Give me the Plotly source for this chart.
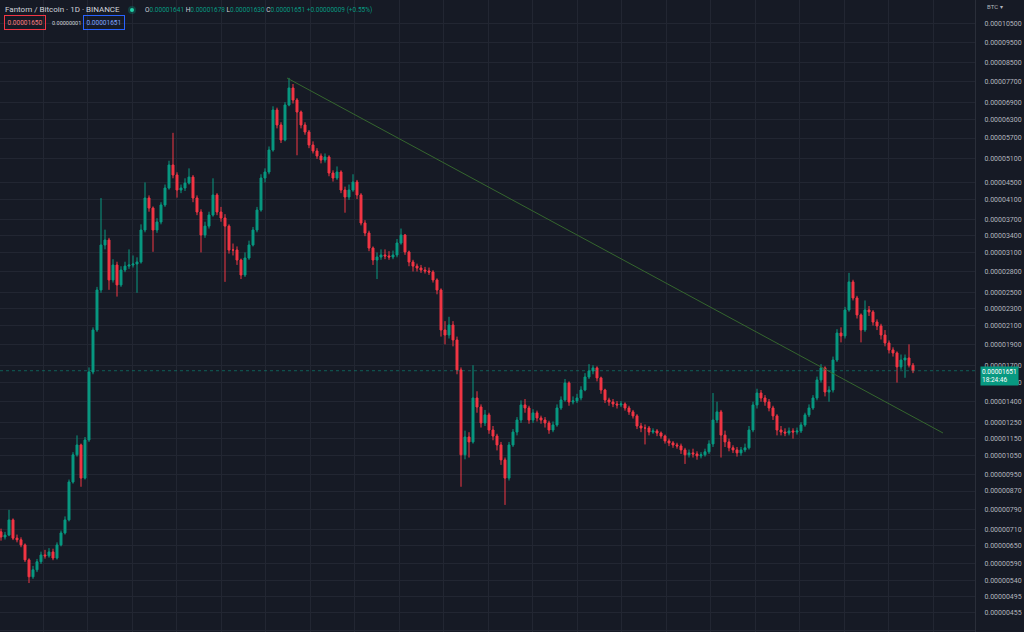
import math
import plotly.graph_objects as go

# ---- Data (prices in satoshi = 1e-8 BTC), 4-day candles ----
closes = [681, 688, 746, 677, 671, 653, 603, 551, 572, 597, 619, 616, 629, 609, 653, 696, 746, 913, 1055, 1112,
          932, 1142, 1640, 2051, 2538, 3225, 3312, 2677, 2899, 2607, 2823, 2882, 2899, 2914, 2946, 3493, 4142, 3926, 3493, 3645,
          3991, 4368, 4938, 4682, 4322, 4368, 4485, 4630, 4142, 3844, 3401, 3566, 3783, 4209, 3844, 3723, 3566, 3140, 3140, 2977,
          2749, 3009, 3225, 3493, 3885, 4607, 4757, 5348, 6617, 6110, 5641, 6796, 7440, 6979, 6547, 6110, 5886, 5493, 5320, 5180,
          5071, 5152, 4731, 4607, 4757, 4322, 4164, 4322, 4510, 4209, 3625, 3437, 3173, 2977, 3025, 3058, 3042, 3025, 3058, 3259,
          3401, 3107, 2945, 2882, 2853, 2823, 2808, 2793, 2677, 2538, 2051, 1997, 2106, 1945, 1658, 1055, 1160, 1130, 1428, 1361,
          1250, 1305, 1204, 1166, 1112, 1027, 932, 1112, 1191, 1270, 1376, 1354, 1270, 1319, 1284, 1270, 1250, 1204, 1237, 1354,
          1413, 1547, 1398, 1406, 1428, 1490, 1597, 1649, 1676, 1589, 1490, 1413, 1398, 1383, 1376, 1383, 1354, 1326, 1298, 1230,
          1217, 1217, 1191, 1198, 1185, 1166, 1136, 1124, 1112, 1106, 1083, 1055, 1066, 1060, 1049, 1055, 1072, 1118, 1270, 1326,
          1172, 1130, 1095, 1083, 1066, 1083, 1095, 1204, 1376, 1466, 1428, 1398, 1354, 1298, 1204, 1191, 1185, 1198, 1191, 1198,
          1237, 1305, 1354, 1428, 1572, 1676, 1474, 1490, 1748, 2018, 1987, 2282, 2649, 2432, 2222, 2051, 2282, 2258, 2140, 2095,
          1997, 1914, 1844, 1815, 1685, 1748, 1767, 1700, 1651]
highs = [712, 700, 787, 752, 690, 680, 658, 608, 584, 606, 630, 636, 642, 640, 662, 705, 760, 925, 1070, 1170,
         1120, 1160, 1680, 2080, 2580, 4140, 3500, 3350, 2990, 2950, 2880, 2950, 3150, 3050, 3020, 3600, 4500, 4200, 3960, 3720,
         4050, 4450, 5050, 5860, 4750, 4450, 4600, 4850, 4680, 4200, 3900, 3650, 3850, 4600, 4250, 3950, 3800, 3600, 3250, 3200,
         3000, 3100, 3300, 3550, 3950, 4700, 4850, 5450, 6750, 6700, 6200, 6900, 7850, 7600, 7050, 6600, 6200, 5950, 5600, 5400,
         5250, 5250, 5200, 4800, 4900, 4800, 4400, 4450, 4700, 4560, 4250, 3680, 3480, 3200, 3100, 3150, 3150, 3120, 3130, 3330,
         3520, 3420, 3130, 2980, 2920, 2900, 2870, 2860, 2820, 2700, 2560, 2150, 2200, 2150, 1980, 1680, 1200, 1190, 1700, 1480,
         1380, 1340, 1320, 1230, 1180, 1130, 1040, 1130, 1210, 1290, 1410, 1420, 1370, 1345, 1335, 1300, 1290, 1265, 1260, 1380,
         1440, 1580, 1560, 1440, 1460, 1520, 1630, 1710, 1700, 1690, 1600, 1500, 1430, 1420, 1405, 1405, 1395, 1370, 1340, 1310,
         1250, 1240, 1230, 1215, 1210, 1195, 1175, 1150, 1135, 1125, 1120, 1095, 1085, 1090, 1075, 1070, 1090, 1140, 1466, 1400,
         1340, 1200, 1150, 1110, 1100, 1100, 1120, 1230, 1400, 1500, 1490, 1450, 1420, 1370, 1310, 1230, 1215, 1220, 1215, 1220,
         1255, 1320, 1380, 1450, 1600, 1710, 1690, 1520, 1780, 2060, 2080, 2320, 2780, 2680, 2460, 2240, 2400, 2330, 2280, 2170,
         2120, 2050, 1940, 1870, 1830, 1800, 1800, 1900, 1720]
lows = [668, 672, 684, 670, 662, 645, 596, 533, 545, 565, 590, 607, 610, 602, 604, 648, 690, 740, 905, 1045,
        890, 925, 1130, 1620, 2030, 2500, 3150, 2540, 2640, 2450, 2580, 2790, 2840, 2860, 2500, 2920, 3450, 3850, 3110, 3440,
        3600, 3950, 4330, 4600, 4150, 4250, 4300, 4450, 4050, 3780, 3100, 3350, 3520, 3750, 3780, 3650, 2650, 3080, 3050, 2900,
        2690, 2720, 2980, 3200, 3450, 3850, 4500, 4700, 5300, 6000, 5550, 5600, 6750, 6850, 5200, 6000, 5800, 5400, 5250, 5100,
        4980, 5000, 4650, 4520, 4560, 4250, 3830, 4100, 4280, 4120, 3580, 3380, 3120, 2900, 2690, 2980, 2990, 2980, 2990, 3020,
        3230, 3060, 2880, 2800, 2800, 2780, 2770, 2750, 2640, 2480, 1980, 1900, 1960, 1880, 1620, 890, 1030, 1040, 1120, 1320,
        1220, 1230, 1180, 1140, 1080, 1000, 808, 920, 1100, 1170, 1250, 1320, 1245, 1250, 1260, 1245, 1220, 1180, 1190, 1225,
        1340, 1400, 1370, 1380, 1390, 1410, 1480, 1580, 1620, 1560, 1460, 1390, 1370, 1360, 1350, 1360, 1335, 1305, 1280, 1210,
        1190, 1115, 1170, 1180, 1165, 1150, 1120, 1105, 1095, 1090, 1060, 1005, 1040, 1040, 1028, 1035, 1045, 1060, 1100, 1250,
        1040, 1100, 1075, 1065, 1045, 1050, 1070, 1085, 1190, 1350, 1400, 1370, 1330, 1270, 1170, 1170, 1165, 1170, 1150, 1175,
        1185, 1225, 1290, 1340, 1410, 1550, 1440, 1400, 1470, 1730, 1920, 1960, 2260, 2400, 2180, 1920, 2030, 2210, 2100, 2050,
        1950, 1880, 1810, 1780, 1550, 1660, 1590, 1680, 1630]
first_open = 700
opens = [first_open] + closes[:-1]
days = [4 * i for i in range(len(closes))]

price_ticks = [10500, 9500, 8500, 7700, 6900, 6300, 5700, 5100, 4500, 4100, 3700, 3400, 3100, 2800, 2500,
               2300, 2100, 1900, 1700, 1550, 1400, 1250, 1150, 1050, 950, 870, 790, 710, 650, 590, 540, 495, 455, 415]
tick_labels = [f"{v / 1e8:.8f}" for v in price_ticks]

trend_days = [286, 942]
trend_prices = [7847, 1185]

last_ohlc = {"O": 1641, "H": 1678, "L": 1630, "C": 1651}
last_change = 9
last_change_pct = 0.55
bid_price, spread, ask_price = 1650, 1, 1651
countdown = "18:24:46"

# ---- Style ----
BG = "#161a25"
GRID = "#222632"
UP = "#089981"
DOWN = "#f23645"
TEXT = "#d1d4dc"
AXIS_TXT = "#b2b5be"
FONT = "Roboto, 'Noto Sans', sans-serif"

W, H = 1024, 632
PLOT_W = 975


def px(x):
    return x / PLOT_W


def py(y):
    return 1 - y / H


fig = go.Figure()
fig.add_trace(go.Candlestick(
    x=days, open=opens, high=highs, low=lows, close=closes,
    increasing=dict(line=dict(color=UP, width=1), fillcolor=UP),
    decreasing=dict(line=dict(color=DOWN, width=1), fillcolor=DOWN),
    whiskerwidth=0, hoverinfo="skip", showlegend=False,
))
fig.add_trace(go.Scatter(
    x=trend_days, y=trend_prices, mode="lines",
    line=dict(color="#35662e", width=1), hoverinfo="skip", showlegend=False,
))

# current price dotted line
fig.add_shape(type="line", xref="paper", x0=0, x1=1, yref="y", y0=closes[-1], y1=closes[-1],
              line=dict(color=UP, width=1, dash="dot"), opacity=0.55)

y_lo, y_hi = 410.7, 11887
grid_x = [42 + 44.5 * k for k in range(22)]

fig.update_layout(
    width=W, height=H,
    margin=dict(l=0, r=W - PLOT_W, t=0, b=0),
    paper_bgcolor=BG, plot_bgcolor=BG,
    font=dict(family=FONT, color=AXIS_TXT, size=7),
    showlegend=False,
    xaxis=dict(range=[-1, 974], rangeslider=dict(visible=False), showticklabels=False,
               tickmode="array", tickvals=grid_x, showgrid=True, gridcolor=GRID, gridwidth=1,
               zeroline=False, showline=False, ticks=""),
    yaxis=dict(type="log", side="right", range=[math.log10(y_lo), math.log10(y_hi)],
               tickmode="array", tickvals=price_ticks, ticktext=tick_labels,
               showgrid=True, gridcolor=GRID, gridwidth=1, zeroline=False,
               showline=True, linecolor="#2a2e39", linewidth=1,
               ticks="outside", ticklen=7, tickcolor=BG,
               tickfont=dict(family=FONT, size=7, color=AXIS_TXT)),
)

ann = []
ann.append(dict(xref="paper", yref="paper", x=px(3), y=py(10), xanchor="left", yanchor="middle",
                text="Fantom / Bitcoin · 1D · BINANCE", showarrow=False,
                font=dict(family=FONT, size=8, color=TEXT)))
vals = " ".join(
    f"<span style='color:{TEXT}'>{k}</span>{v / 1e8:.8f}" for k, v in last_ohlc.items()
)
vals += f" +{last_change / 1e8:.8f} (+{last_change_pct:.2f}%)"
ann.append(dict(xref="paper", yref="paper", x=px(143), y=py(10), xanchor="left", yanchor="middle",
                text=vals, showarrow=False, font=dict(family=FONT, size=6.5, color=UP)))
ann.append(dict(xref="paper", yref="paper", x=px(4), y=py(23), xanchor="left", yanchor="middle",
                text=f"{bid_price / 1e8:.8f}", showarrow=False, bordercolor=DOWN, borderwidth=1,
                borderpad=2.5, font=dict(family=FONT, size=6.5, color="#f77c80")))
ann.append(dict(xref="paper", yref="paper", x=px(50), y=py(23), xanchor="left", yanchor="middle",
                text=f"{spread / 1e8:.8f}", showarrow=False, font=dict(family=FONT, size=5.5, color=TEXT)))
ann.append(dict(xref="paper", yref="paper", x=px(83), y=py(23), xanchor="left", yanchor="middle",
                text=f"{ask_price / 1e8:.8f}", showarrow=False, bordercolor="#2962ff", borderwidth=1,
                borderpad=2.5, font=dict(family=FONT, size=6.5, color="#7fa3ff")))
ann.append(dict(xref="paper", yref="paper", x=px(985), y=py(7), xanchor="left", yanchor="middle",
                text="BTC ▾", showarrow=False, font=dict(family=FONT, size=6, color=AXIS_TXT)))
ann.append(dict(xref="paper", yref="y", x=px(980), y=math.log10(closes[-1]), xanchor="left",
                yanchor="top", yshift=5, text=f"{closes[-1] / 1e8:.8f}<br>{countdown}", showarrow=False,
                bgcolor=UP, borderpad=1, align="left",
                font=dict(family=FONT, size=6.5, color="#ffffff")))
fig.update_layout(annotations=ann)

# status dot
fig.add_shape(type="circle", xref="paper", yref="paper", x0=px(128), x1=px(136), y0=py(14), y1=py(6),
              fillcolor=UP, opacity=0.3, line=dict(width=0))
fig.add_shape(type="circle", xref="paper", yref="paper", x0=px(130), x1=px(134), y0=py(12), y1=py(8),
              fillcolor="#22d1a8", line=dict(width=0))

fig.write_html("out.html", config={"displayModeBar": False})
